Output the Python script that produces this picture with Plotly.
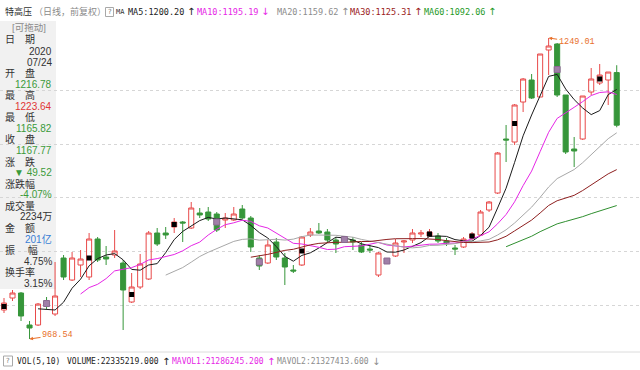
import plotly.graph_objects as go
import pandas as pd

# ---------------- data ----------------
opens = [995.56, 1006.74, 1011.40, 981.58, 981.58, 1003.95, 991.83, 1044.02, 1023.52, 1037.49,
         1026.31, 1061.72, 1044.95, 1046.81, 1039.36, 1003.02, 1016.99, 1024.45, 1067.31, 1067.31,
         1072.90, 1077.56, 1071.97, 1085.95, 1086.88, 1085.01, 1079.42, 1079.42, 1089.67, 1081.29,
         1044.02, 1039.36, 1058.92, 1044.02, 1032.83, 1037.49, 1065.45, 1069.17, 1068.24, 1060.79,
         1062.65, 1060.79, 1056.13, 1052.40, 1028.17, 1043.08, 1045.88, 1058.92, 1060.79, 1066.38,
         1064.52, 1064.52, 1059.86, 1053.33, 1054.27, 1062.65, 1065.45, 1088.74, 1104.58, 1154.90,
         1152.10, 1189.38, 1209.88, 1194.04, 1237.83, 1243.42, 1195.90, 1145.58, 1154.90, 1198.69,
         1207.08, 1209.88, 1216.78]
highs = [1006.74, 1014.20, 1012.33, 985.31, 1002.08, 1007.68, 1040.29, 1046.81, 1049.61, 1051.47,
         1067.31, 1063.58, 1055.20, 1070.11, 1042.15, 1030.04, 1047.74, 1069.17, 1071.97, 1072.90,
         1081.29, 1078.49, 1096.20, 1090.61, 1091.54, 1086.88, 1085.95, 1091.54, 1093.40, 1083.15,
         1046.81, 1060.79, 1062.65, 1048.67, 1037.49, 1064.52, 1071.97, 1076.63, 1071.04, 1063.58,
         1064.52, 1063.58, 1058.92, 1056.13, 1049.61, 1044.02, 1061.72, 1060.79, 1071.04, 1070.11,
         1071.04, 1067.31, 1062.65, 1056.13, 1063.58, 1068.24, 1088.74, 1097.13, 1142.79, 1167.94,
         1187.51, 1211.74, 1215.47, 1234.10, 1249.01, 1244.35, 1195.90, 1156.76, 1194.97, 1221.06,
         1224.78, 1217.29, 1223.64]
lows = [992.77, 1003.95, 985.31, 968.54, 980.65, 996.49, 989.97, 1023.52, 1022.58, 1026.31,
        1023.52, 1040.29, 1037.49, 1044.02, 976.93, 1002.08, 1015.13, 1023.52, 1055.20, 1061.72,
        1067.31, 1058.92, 1071.04, 1081.29, 1078.49, 1068.24, 1071.97, 1078.49, 1080.36, 1049.61,
        1032.83, 1038.42, 1042.15, 1018.86, 1030.04, 1036.56, 1063.58, 1066.38, 1057.99, 1048.67,
        1057.99, 1051.47, 1048.67, 1048.67, 1026.31, 1038.42, 1044.95, 1048.67, 1057.99, 1063.58,
        1063.58, 1057.99, 1055.20, 1046.81, 1053.33, 1060.79, 1064.52, 1086.88, 1103.65, 1133.47,
        1149.31, 1180.06, 1192.17, 1194.04, 1214.53, 1194.04, 1140.92, 1128.81, 1153.97, 1195.90,
        1205.22, 1186.58, 1165.82]
closes = [1002.08, 1011.40, 989.97, 978.79, 1001.15, 999.29, 1008.61, 1026.31, 1044.02, 1043.08,
          1061.72, 1042.15, 1043.08, 1050.54, 1014.20, 1016.99, 1038.42, 1067.31, 1057.06, 1065.45,
          1077.56, 1076.63, 1090.61, 1084.08, 1080.36, 1070.11, 1081.29, 1085.01, 1081.29, 1054.27,
          1036.56, 1056.13, 1044.95, 1035.63, 1031.90, 1063.58, 1068.24, 1067.31, 1060.79, 1057.06,
          1059.86, 1058.92, 1049.61, 1051.47, 1048.67, 1039.36, 1057.99, 1059.86, 1067.31, 1067.31,
          1068.24, 1059.86, 1057.99, 1052.40, 1061.72, 1066.38, 1086.88, 1096.20, 1141.85, 1153.97,
          1186.58, 1210.81, 1193.10, 1234.10, 1241.56, 1195.90, 1142.79, 1143.72, 1194.97, 1210.81,
          1214.53, 1217.29, 1167.77]
black_marks = [0, 10, 15, 20, 35, 50, 55, 60, 70]
purple_marks = [5, 25, 30, 40, 45, 65]
ma_periods = [5, 10, 20, 30, 60]
ma_colors = ["#1a1a1a", "#e626e6", "#a8a8a8", "#8e1f1f", "#2f8f2f"]
grid_levels = [1000, 1050, 1100, 1150, 1200]
high_label = "1249.01"
low_label = "968.54"

top_items = [("MA5:1200.20", "↑", "#222222"), ("MA10:1195.19", "↓", "#e626e6"),
             ("MA20:1159.62", "↑", "#8c8c8c"), ("MA30:1125.31", "↑", "#9a1a1a"),
             ("MA60:1092.06", "↑", "#1f9a1f")]
bottom_items = [("VOLUME:22335219.000", "↑", "#222222"), ("MAVOL1:21286245.200", "↑", "#e626e6"),
                ("MAVOL2:21327413.600", "↓", "#8c8c8c")]
panel_rows = [("日　期", None, None), (None, "2020", "#333333"), (None, "07/24", "#333333"),
              ("开　盘", None, None), (None, "1216.78", "#3a9a3a"),
              ("最　高", None, None), (None, "1223.64", "#e03535"),
              ("最　低", None, None), (None, "1165.82", "#3a9a3a"),
              ("收　盘", None, None), (None, "1167.77", "#3a9a3a"),
              ("涨　跌", None, None), (None, "▼ 49.52", "#3a9a3a"),
              ("涨跌幅", None, None), (None, "-4.07%", "#3a9a3a"),
              ("成交量", None, None), (None, "2234万", "#333333"),
              ("金　额", None, None), (None, "201亿", "#3a7fd5"),
              ("振　 幅", None, None), (None, "4.75%", "#333333"),
              ("换手率", None, None), (None, "3.15%", "#333333")]

# ---------------- figure ----------------
W, H = 640, 370
T, B = 25, 20
PLOT_BOTTOM = H - B


def px(x):
    return x / W


def py(y):
    return (PLOT_BOTTOM - y) / (PLOT_BOTTOM - T)


idx = list(range(len(closes)))
cl = pd.Series(closes)

fig = go.Figure()

for per, col in zip(ma_periods, ma_colors):
    ma = cl.rolling(per).mean()
    fig.add_trace(go.Scatter(x=idx, y=ma, mode="lines", line=dict(color=col, width=1),
                             hoverinfo="skip"))

fig.add_trace(go.Candlestick(
    x=idx, open=opens, high=highs, low=lows, close=closes,
    increasing=dict(line=dict(color="#e84a4a", width=1), fillcolor="rgba(255,255,255,0)"),
    decreasing=dict(line=dict(color="#36963a", width=1), fillcolor="#36963a"),
    whiskerwidth=0,
))

mid = [(opens[i] + closes[i]) / 2 for i in range(len(closes))]
fig.add_trace(go.Scatter(x=black_marks, y=[mid[i] for i in black_marks], mode="markers",
                         marker=dict(symbol="square", size=5, color="#000000",
                                     line=dict(width=0)), hoverinfo="skip"))
fig.add_trace(go.Scatter(x=purple_marks, y=[mid[i] for i in purple_marks], mode="markers",
                         marker=dict(symbol="square", size=6, color="#a07fa8",
                                     line=dict(width=1, color="#8a6a90")), hoverinfo="skip"))

annotations = []
mono = "DejaVu Sans Mono"
cjk = "Liberation Sans, Noto Sans CJK SC"

# title row
annotations.append(dict(x=px(3), y=py(12), xref="paper", yref="paper", xanchor="left",
                        yanchor="middle", showarrow=False,
                        text="特高压 <span style='color:#8a8a8a'>（日线，前复权）</span>",
                        font=dict(family="Noto Sans CJK SC", size=9, color="#333333")))
annotations.append(dict(x=px(109.5), y=py(12), xref="paper", yref="paper", xanchor="center",
                        yanchor="middle", showarrow=False, text="?",
                        font=dict(family="DejaVu Sans", size=7, color="#777777")))
annotations.append(dict(x=px(114), y=py(12), xref="paper", yref="paper", xanchor="left",
                        yanchor="middle", showarrow=False, text="MA",
                        font=dict(family=mono, size=7, color="#333333")))
xpos = [126, 195, 275, 348, 422]
for (lab, arr, col), x0 in zip(top_items, xpos):
    annotations.append(dict(x=px(x0), y=py(12), xref="paper", yref="paper", xanchor="left",
                            yanchor="middle", showarrow=False, text=lab,
                            font=dict(family=mono, size=8.5, color=col)))
    annotations.append(dict(x=px(x0 + len(lab) * 5.12 + 3), y=py(12), xref="paper",
                            yref="paper", xanchor="left", yanchor="middle", showarrow=False,
                            text=arr, font=dict(family="DejaVu Sans", size=10, color=col)))

# bottom row
annotations.append(dict(x=px(8), y=py(361), xref="paper", yref="paper", xanchor="center",
                        yanchor="middle", showarrow=False, text="?",
                        font=dict(family="DejaVu Sans", size=7, color="#777777")))
annotations.append(dict(x=px(15), y=py(361), xref="paper", yref="paper", xanchor="left",
                        yanchor="middle", showarrow=False, text="VOL(5,10)",
                        font=dict(family=mono, size=8, color="#222222")))
bpos = [65, 170, 275]
for (lab, arr, col), x0 in zip(bottom_items, bpos):
    annotations.append(dict(x=px(x0), y=py(361), xref="paper", yref="paper", xanchor="left",
                            yanchor="middle", showarrow=False, text=lab,
                            font=dict(family=mono, size=8, color=col)))
    annotations.append(dict(x=px(x0 + len(lab) * 4.82 + 3), y=py(361), xref="paper",
                            yref="paper", xanchor="left", yanchor="middle", showarrow=False,
                            text=arr, font=dict(family="DejaVu Sans", size=10, color=col)))

# left info panel
annotations.append(dict(x=px(29), y=py(27), xref="paper", yref="paper", xanchor="center",
                        yanchor="middle", showarrow=False, text="[可拖动]",
                        font=dict(family=cjk, size=9.5, color="#8a8a8a")))
yrow = 40.0
for lab, val, col in panel_rows:
    if lab is not None:
        annotations.append(dict(x=px(3), y=py(yrow), xref="paper", yref="paper",
                                xanchor="left", yanchor="middle", showarrow=False, text=lab,
                                font=dict(family=cjk, size=10, color="#333333")))
    else:
        annotations.append(dict(x=px(54), y=py(yrow), xref="paper", yref="paper",
                                xanchor="right", yanchor="middle", showarrow=False, text=val,
                                font=dict(family=cjk, size=10, color=col)))
    yrow += 11.05

# high / low labels
hi_i = highs.index(max(highs))
lo_i = lows.index(min(lows))
annotations.append(dict(x=hi_i, y=highs[hi_i], xref="x", yref="y", text=high_label,
                        showarrow=True, ax=28, ay=4, arrowhead=2, arrowsize=0.7, arrowwidth=1,
                        arrowcolor="#e8702a", standoff=0,
                        font=dict(family="Liberation Mono", size=8.5, color="#e8702a")))
annotations.append(dict(x=lo_i, y=lows[lo_i], xref="x", yref="y", text=low_label,
                        showarrow=True, ax=28, ay=-4, arrowhead=2, arrowsize=0.7, arrowwidth=1,
                        arrowcolor="#e8702a", standoff=0,
                        font=dict(family="Liberation Mono", size=8.5, color="#e8702a")))

shapes = [
    dict(type="rect", xref="paper", yref="paper", x0=px(0), x1=px(56), y0=py(289), y1=py(21),
         fillcolor="#f1f1f1", line=dict(width=0), layer="between"),
    dict(type="line", xref="paper", yref="paper", x0=0, x1=1, y0=py(352), y1=py(352),
         line=dict(color="#dcdcdc", width=1)),
    dict(type="rect", xref="paper", yref="paper", x0=px(105.5), x1=px(113.5),
         y0=py(16.5), y1=py(7.5), line=dict(color="#a8a8a8", width=1),
         fillcolor="rgba(0,0,0,0)"),
    dict(type="rect", xref="paper", yref="paper", x0=px(3.5), x1=px(12.5),
         y0=py(366), y1=py(356), line=dict(color="#a8a8a8", width=1),
         fillcolor="rgba(0,0,0,0)"),
]

x_px0, x_step = 4.0, 8.51
fig.update_layout(
    width=W, height=H, margin=dict(l=0, r=0, t=T, b=B),
    paper_bgcolor="white", plot_bgcolor="white", showlegend=False,
    boxgap=0.15, boxgroupgap=0.3,
    annotations=annotations, shapes=shapes,
    xaxis=dict(range=[-x_px0 / x_step, (W - x_px0) / x_step], showgrid=False,
               showticklabels=False, zeroline=False, showline=False, ticks="",
               rangeslider=dict(visible=False)),
    yaxis=dict(range=[1284.42 - 0.9318 * PLOT_BOTTOM, 1284.42 - 0.9318 * T],
               tickvals=grid_levels, showticklabels=False, showgrid=True,
               gridcolor="#d6d6d6", griddash="dot", gridwidth=1, zeroline=False,
               showline=False, ticks=""),
)

fig.write_html("out.html", config={"displayModeBar": False},
               post_script="document.body.style.margin='0';document.body.style.padding='0';"
                           "document.body.style.overflow='hidden';")
